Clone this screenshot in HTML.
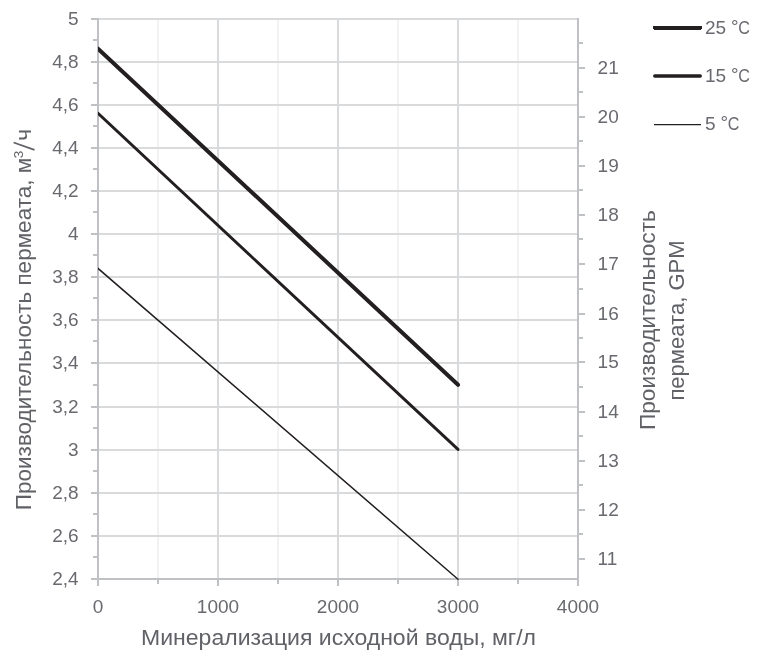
<!DOCTYPE html>
<html><head><meta charset="utf-8"><style>
html,body{margin:0;padding:0;background:#fff;}
svg{display:block;will-change:transform;}
text{font-family:"Liberation Sans",sans-serif;fill:#696a6f;}
.t text{fill:#616267;}
</style></head><body>
<svg width="766" height="668" viewBox="0 0 766 668">
<rect width="766" height="668" fill="#fff"/>
<g shape-rendering="crispEdges">
<rect x="157" y="20" width="2" height="558" fill="#f2f2f2"/>
<rect x="277" y="20" width="2" height="558" fill="#f2f2f2"/>
<rect x="397" y="20" width="2" height="558" fill="#f2f2f2"/>
<rect x="517" y="20" width="2" height="558" fill="#f2f2f2"/>
<rect x="99" y="18" width="478" height="2" fill="#d9dadc"/>
<rect x="99" y="61" width="478" height="2" fill="#d9dadc"/>
<rect x="99" y="104" width="478" height="2" fill="#d9dadc"/>
<rect x="99" y="147" width="478" height="2" fill="#d9dadc"/>
<rect x="99" y="190" width="478" height="2" fill="#d9dadc"/>
<rect x="99" y="233" width="478" height="2" fill="#d9dadc"/>
<rect x="99" y="276" width="478" height="2" fill="#d9dadc"/>
<rect x="99" y="319" width="478" height="2" fill="#d9dadc"/>
<rect x="99" y="362" width="478" height="2" fill="#d9dadc"/>
<rect x="99" y="406" width="478" height="2" fill="#d9dadc"/>
<rect x="99" y="449" width="478" height="2" fill="#d9dadc"/>
<rect x="99" y="492" width="478" height="2" fill="#d9dadc"/>
<rect x="99" y="535" width="478" height="2" fill="#d9dadc"/>
<rect x="217" y="18" width="2" height="560" fill="#d9dadc"/>
<rect x="337" y="18" width="2" height="560" fill="#d9dadc"/>
<rect x="457" y="18" width="2" height="560" fill="#d9dadc"/>
<rect x="97" y="18" width="2" height="568" fill="#c0c1c4"/>
<rect x="577" y="18" width="2" height="568" fill="#c0c1c4"/>
<rect x="91" y="578" width="488" height="2" fill="#c0c1c4"/>
<rect x="91" y="18" width="6" height="2" fill="#c0c1c4"/>
<rect x="91" y="61" width="6" height="2" fill="#c0c1c4"/>
<rect x="91" y="104" width="6" height="2" fill="#c0c1c4"/>
<rect x="91" y="147" width="6" height="2" fill="#c0c1c4"/>
<rect x="91" y="190" width="6" height="2" fill="#c0c1c4"/>
<rect x="91" y="233" width="6" height="2" fill="#c0c1c4"/>
<rect x="91" y="276" width="6" height="2" fill="#c0c1c4"/>
<rect x="91" y="319" width="6" height="2" fill="#c0c1c4"/>
<rect x="91" y="362" width="6" height="2" fill="#c0c1c4"/>
<rect x="91" y="406" width="6" height="2" fill="#c0c1c4"/>
<rect x="91" y="449" width="6" height="2" fill="#c0c1c4"/>
<rect x="91" y="492" width="6" height="2" fill="#c0c1c4"/>
<rect x="91" y="535" width="6" height="2" fill="#c0c1c4"/>
<rect x="91" y="578" width="6" height="2" fill="#c0c1c4"/>
<rect x="93" y="39" width="4" height="2" fill="#c0c1c4"/>
<rect x="93" y="82" width="4" height="2" fill="#c0c1c4"/>
<rect x="93" y="125" width="4" height="2" fill="#c0c1c4"/>
<rect x="93" y="168" width="4" height="2" fill="#c0c1c4"/>
<rect x="93" y="211" width="4" height="2" fill="#c0c1c4"/>
<rect x="93" y="254" width="4" height="2" fill="#c0c1c4"/>
<rect x="93" y="297" width="4" height="2" fill="#c0c1c4"/>
<rect x="93" y="340" width="4" height="2" fill="#c0c1c4"/>
<rect x="93" y="384" width="4" height="2" fill="#c0c1c4"/>
<rect x="93" y="427" width="4" height="2" fill="#c0c1c4"/>
<rect x="93" y="470" width="4" height="2" fill="#c0c1c4"/>
<rect x="93" y="513" width="4" height="2" fill="#c0c1c4"/>
<rect x="93" y="556" width="4" height="2" fill="#c0c1c4"/>
<rect x="97" y="580" width="2" height="6" fill="#c0c1c4"/>
<rect x="217" y="580" width="2" height="6" fill="#c0c1c4"/>
<rect x="337" y="580" width="2" height="6" fill="#c0c1c4"/>
<rect x="457" y="580" width="2" height="6" fill="#c0c1c4"/>
<rect x="577" y="580" width="2" height="6" fill="#c0c1c4"/>
<rect x="157" y="580" width="2" height="4" fill="#c0c1c4"/>
<rect x="277" y="580" width="2" height="4" fill="#c0c1c4"/>
<rect x="397" y="580" width="2" height="4" fill="#c0c1c4"/>
<rect x="517" y="580" width="2" height="4" fill="#c0c1c4"/>
<rect x="579" y="67" width="6" height="2" fill="#c0c1c4"/>
<rect x="579" y="116" width="6" height="2" fill="#c0c1c4"/>
<rect x="579" y="165" width="6" height="2" fill="#c0c1c4"/>
<rect x="579" y="214" width="6" height="2" fill="#c0c1c4"/>
<rect x="579" y="263" width="6" height="2" fill="#c0c1c4"/>
<rect x="579" y="313" width="6" height="2" fill="#c0c1c4"/>
<rect x="579" y="361" width="6" height="2" fill="#c0c1c4"/>
<rect x="579" y="411" width="6" height="2" fill="#c0c1c4"/>
<rect x="579" y="460" width="6" height="2" fill="#c0c1c4"/>
<rect x="579" y="509" width="6" height="2" fill="#c0c1c4"/>
<rect x="579" y="558" width="6" height="2" fill="#c0c1c4"/>
<rect x="579" y="533" width="4" height="2" fill="#c0c1c4"/>
<rect x="579" y="484" width="4" height="2" fill="#c0c1c4"/>
<rect x="579" y="435" width="4" height="2" fill="#c0c1c4"/>
<rect x="579" y="386" width="4" height="2" fill="#c0c1c4"/>
<rect x="579" y="337" width="4" height="2" fill="#c0c1c4"/>
<rect x="579" y="288" width="4" height="2" fill="#c0c1c4"/>
<rect x="579" y="238" width="4" height="2" fill="#c0c1c4"/>
<rect x="579" y="189" width="4" height="2" fill="#c0c1c4"/>
<rect x="579" y="140" width="4" height="2" fill="#c0c1c4"/>
<rect x="579" y="91" width="4" height="2" fill="#c0c1c4"/>
<rect x="579" y="42" width="4" height="2" fill="#c0c1c4"/>
<rect x="653" y="26" width="49" height="3" fill="#231f20"/>
<rect x="654" y="29" width="47" height="1" fill="#231f20"/>
</g>
<defs><clipPath id="pa"><rect x="98" y="0" width="668" height="668"/></clipPath></defs>
<g clip-path="url(#pa)">
<line x1="98.00" y1="268.40" x2="458.00" y2="579.20" stroke="#231f20" stroke-width="1.5" stroke-linecap="round"/>
<line x1="98.00" y1="113.37" x2="458.00" y2="449.42" stroke="#231f20" stroke-width="2.9" stroke-linecap="round"/>
<line x1="98.00" y1="48.65" x2="458.00" y2="384.80" stroke="#231f20" stroke-width="4" stroke-linecap="round"/>
</g>
<line x1="654.8" y1="75.9" x2="700.2" y2="75.9" stroke="#231f20" stroke-width="3.5" stroke-linecap="round"/>
<line x1="654" y1="124.5" x2="701" y2="124.5" stroke="#231f20" stroke-width="1.25"/>
<g font-size="19">
<text x="78.6" y="25" text-anchor="end">5</text>
<text x="78.6" y="68" text-anchor="end">4,8</text>
<text x="78.6" y="111" text-anchor="end">4,6</text>
<text x="78.6" y="154" text-anchor="end">4,4</text>
<text x="78.6" y="197" text-anchor="end">4,2</text>
<text x="78.6" y="240" text-anchor="end">4</text>
<text x="78.6" y="283" text-anchor="end">3,8</text>
<text x="78.6" y="326" text-anchor="end">3,6</text>
<text x="78.6" y="369" text-anchor="end">3,4</text>
<text x="78.6" y="413" text-anchor="end">3,2</text>
<text x="78.6" y="456" text-anchor="end">3</text>
<text x="78.6" y="499" text-anchor="end">2,8</text>
<text x="78.6" y="542" text-anchor="end">2,6</text>
<text x="78.6" y="585" text-anchor="end">2,4</text>
<text x="98.00" y="613.2" text-anchor="middle">0</text>
<text x="218.00" y="613.2" text-anchor="middle">1000</text>
<text x="338.00" y="613.2" text-anchor="middle">2000</text>
<text x="458.00" y="613.2" text-anchor="middle">3000</text>
<text x="578.00" y="613.2" text-anchor="middle">4000</text>
<text x="597.6" y="74">21</text>
<text x="597.6" y="123">20</text>
<text x="597.6" y="172">19</text>
<text x="597.6" y="221">18</text>
<text x="597.6" y="270">17</text>
<text x="597.6" y="320">16</text>
<text x="597.6" y="368">15</text>
<text x="597.6" y="418">14</text>
<text x="597.6" y="467">13</text>
<text x="597.6" y="516">12</text>
<text x="597.6" y="565">11</text>
<text x="705" y="34">25</text>
<text x="731.00" y="33.2">°</text>
<text x="738.25" y="34" textLength="11.65" lengthAdjust="spacingAndGlyphs">C</text>
<text x="705" y="82">15</text>
<text x="731.00" y="81.2">°</text>
<text x="738.25" y="82" textLength="11.65" lengthAdjust="spacingAndGlyphs">C</text>
<text x="705" y="130">5</text>
<text x="720.40" y="129.2">°</text>
<text x="727.65" y="130" textLength="11.65" lengthAdjust="spacingAndGlyphs">C</text>
</g>
<g font-size="22.5" class="t">
<text x="141.05" y="645.1" textLength="395" lengthAdjust="spacingAndGlyphs">Минерализация исходной воды, мг/л</text>
<text transform="translate(31.1,510.2) rotate(-90)">Производительность пермеата, м</text>
<text transform="translate(23.2,158.2) rotate(-90)" font-size="13.5">3</text>
<text transform="translate(31.1,140.7) rotate(-90)">ч</text>
<text transform="translate(654.6,430.1) rotate(-90)" textLength="220" lengthAdjust="spacingAndGlyphs">Производительность</text>
<text transform="translate(684,400.6) rotate(-90)" textLength="160.2" lengthAdjust="spacingAndGlyphs">пермеата, GPM</text>
</g>
<line x1="34.5" y1="149.8" x2="13.6" y2="142.5" stroke="#616267" stroke-width="1.8"/>
</svg>
</body></html>
